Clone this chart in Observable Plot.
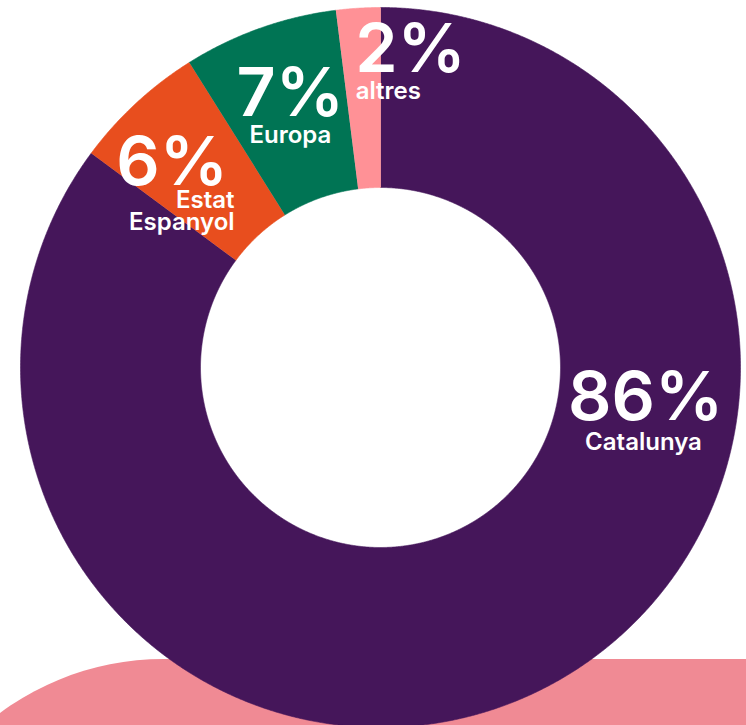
<!DOCTYPE html>
<html><head><meta charset="utf-8">
<script src="https://cdn.jsdelivr.net/npm/d3@7"></script>
<script src="https://cdn.jsdelivr.net/npm/@observablehq/plot@0.6"></script>
<style>html,body{margin:0;padding:0;background:#fff;} #chart svg{display:block;}</style>
</head><body><div id="chart"></div>
<script>
// ---- data ----
const categories = ["Catalunya", "Estat Espanyol", "Europa", "altres"];
const values = [86, 6, 7, 2];
const valueLabels = ["86%", "6%", "7%", "2%"];
const nameLabels = ["Catalunya", "Estat\nEspanyol", "Europa", "altres"];
const colors = ["#45165a", "#e84e1e", "#007454", "#ff9196"];

// ---- layout ----
const W = 746, H = 725, CX = 380, CY = 367, R = 360;
const innerRatio = 0.5;
// label placement in polar form: angle (deg, clockwise from top), radius (fraction of outer radius)
const labelLayout = {
  "Catalunya":      {num: [101.3, 0.751], name: [107.5, 0.766], nameAnchor: "middle"},
  "Estat Espanyol": {num: [311.3, 0.770], name: [313.2, 0.556], nameAnchor: "end"},
  "Europa":         {num: [340.3, 0.743], name: [338.1, 0.671], nameAnchor: "middle"},
  "altres":         {num: [5.8, 0.824],   name: [354.7, 0.748], nameAnchor: "start"}
};
const blobColor = "#f08a94";

const rows = categories.map((c, i) => ({name: c, value: values[i], label: valueLabels[i], nameLabel: nameLabels[i]}));
const arcs = d3.pie().sort(null).value(d => d.value)(rows);

const pts = [];
for (const s of arcs) {
  const n = Math.max(2, Math.ceil((s.endAngle - s.startAngle) / 0.004));
  for (let k = 0; k <= n; k++) {
    const a = s.startAngle + (s.endAngle - s.startAngle) * k / n;
    pts.push({name: s.data.name, x: Math.sin(a), y: Math.cos(a)});
  }
  for (let k = n; k >= 0; k--) {
    const a = s.startAngle + (s.endAngle - s.startAngle) * k / n;
    pts.push({name: s.data.name, x: innerRatio * Math.sin(a), y: innerRatio * Math.cos(a)});
  }
}

const polar = ([deg, r]) => ({x: r * Math.sin(deg * Math.PI / 180), y: r * Math.cos(deg * Math.PI / 180)});

// decorative blob behind the donut (rounded rectangle, top-left corner visible)
const blobR = 275;
const blob = [{x1: (163.6 - blobR - CX) / R, x2: 3, y1: (CY - 659) / R, y2: -4}];

const textMarks = [];
for (const d of rows) {
  const L = labelLayout[d.name];
  const p = polar(L.num), q = polar(L.name);
  textMarks.push(Plot.text([{...p, t: d.label}], {
    x: "x", y: "y", text: "t", fill: "white", fontSize: 68, fontWeight: 600,
    fontFamily: "Inter", lineAnchor: "bottom", textAnchor: "middle"
  }));
  textMarks.push(Plot.text([{...q, t: d.nameLabel}], {
    x: "x", y: "y", text: "t", fill: "white", fontSize: 24, fontWeight: 600,
    fontFamily: "Inter", lineAnchor: "bottom", textAnchor: L.nameAnchor, lineHeight: 0.95
  }));
}

const chart = Plot.plot({
  width: W, height: H,
  marginTop: 0, marginRight: 0, marginBottom: 0, marginLeft: 0,
  x: {domain: [(0 - CX) / R, (W - CX) / R], axis: null},
  y: {domain: [(CY - H) / R, CY / R], axis: null},
  color: {domain: categories, range: colors},
  style: {background: "white", overflow: "hidden"},
  marks: [
    Plot.rect(blob, {x1: "x1", x2: "x2", y1: "y1", y2: "y2", fill: blobColor, rx: blobR, clip: true}),
    Plot.line(pts, {x: "x", y: "y", z: "name", fill: "name", stroke: "name", strokeWidth: 0.6, curve: "linear", clip: true}),
    ...textMarks
  ]
});
document.getElementById("chart").appendChild(chart);
</script>
</body></html>
